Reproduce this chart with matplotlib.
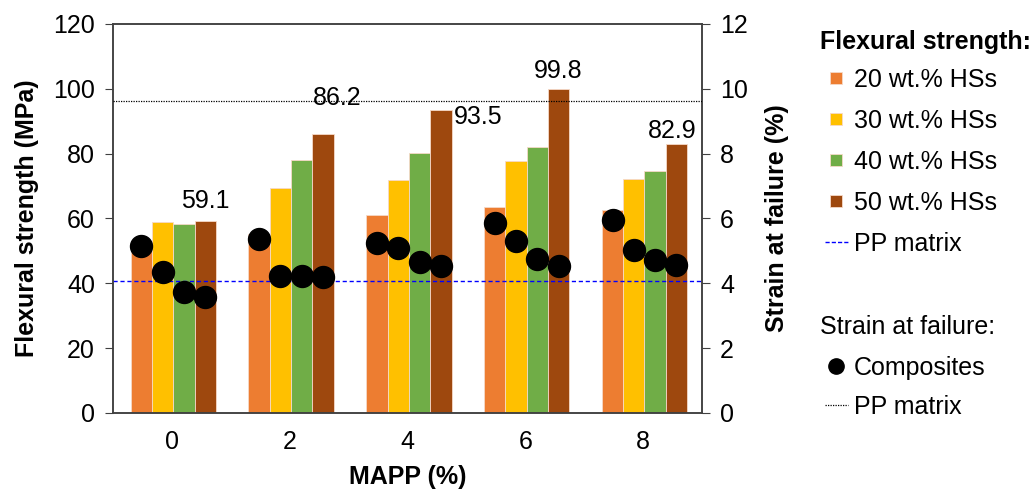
import matplotlib.pyplot as plt
from matplotlib.lines import Line2D

plt.rcParams['font.family'] = ['Liberation Sans', 'DejaVu Sans']

mapp = ["0", "2", "4", "6", "8"]
series = ["20 wt.% HSs", "30 wt.% HSs", "40 wt.% HSs", "50 wt.% HSs"]
colors = ["#ED7D31", "#FFC000", "#70AD47", "#9E480E"]

# flexural strength (MPa) per series, one value per MAPP level
strength = [
    [53.2, 55.2, 61.2, 63.6, 62.5],
    [58.9, 69.3, 71.8, 77.7, 72.2],
    [58.3, 77.9, 80.1, 82.2, 74.7],
    [59.1, 86.2, 93.5, 99.8, 82.9],
]
# strain at failure (%) per series
strain = [
    [5.16, 5.37, 5.24, 5.85, 5.94],
    [4.34, 4.24, 5.08, 5.29, 5.02],
    [3.72, 4.24, 4.65, 4.75, 4.72],
    [3.59, 4.18, 4.53, 4.52, 4.55],
]
pp_strength = 40.7
pp_strain = 9.63

# label offsets for the 50 wt.% values (points)
label_offsets = [(0, 6), (10, 17), (9, -5), (0, 5), (-3, 1)]

fig = plt.figure(figsize=(10.32, 4.92), dpi=100)
ax = fig.add_axes([0.1095, 0.1606, 0.5707, 0.7907])
ax2 = ax.twinx()

fs = 18
width = 0.181
edge = "#f6d9c8"
x = list(range(len(mapp)))
for i, (vals, c) in enumerate(zip(strength, colors)):
    pos = [xi + (i - 1.5) * width + 0.012 for xi in x]
    ax.bar(pos, vals, width, color=c, edgecolor=edge, linewidth=0.6, zorder=2)
    ax2.scatter(pos, strain[i], s=250, color="black", zorder=5)
    if i == 3:
        for p, v, off in zip(pos, vals, label_offsets):
            side = off[1] < 0
            ax.annotate(f"{v:.1f}", (p, v), xytext=off, textcoords="offset points",
                        ha="left" if side else "center", va="center" if side else "bottom",
                        fontsize=fs, zorder=6)

ax.axhline(pp_strength, color="#0000ff", linestyle=(0, (3, 2)), linewidth=1, zorder=3)
ax2.axhline(pp_strain, color="black", linestyle=(0, (1, 1)), linewidth=0.9, zorder=3)

ax.set_xlim(-0.5, 4.5)
ax.set_ylim(0, 120)
ax2.set_ylim(0, 12)
ax.set_yticks(range(0, 121, 20))
ax2.set_yticks(range(0, 13, 2))
ax.set_xticks(x)
ax.set_xticklabels(mapp)
ax.tick_params(axis="y", labelsize=fs, direction="out", length=6, color="#404040", pad=7)
ax.tick_params(axis="x", labelsize=fs, length=0, pad=12)
ax2.tick_params(axis="y", labelsize=fs, direction="out", length=6, color="#404040", pad=7)
for a in (ax, ax2):
    for s in a.spines.values():
        s.set_color("#404040")
        s.set_linewidth(1.1)

ax.set_xlabel("MAPP (%)", fontsize=fs, fontweight="bold", labelpad=8)
ax.set_ylabel("Flexural strength (MPa)", fontsize=fs, fontweight="bold", labelpad=10)
ax2.set_ylabel("Strain at failure (%)", fontsize=fs, fontweight="bold", labelpad=12)

# legends on the right, titles drawn as separate texts
fig.text(820 / 1032, 1 - 42 / 492, "Flexural strength:", fontsize=fs, fontweight="bold",
         ha="left", va="center")
fig.text(820 / 1032, 1 - 327 / 492, "Strain at failure:", fontsize=fs,
         ha="left", va="center")

h1 = [Line2D([], [], marker="s", linestyle="none", markersize=9, markerfacecolor=c,
             markeredgecolor=edge, markeredgewidth=0.6, label=s) for c, s in zip(colors, series)]
h1.append(Line2D([], [], color="#0000ff", linestyle=(0, (3, 1.5)), linewidth=1, label="PP matrix"))
fig.legend(handles=h1, loc="upper left", bbox_to_anchor=(825 / 1032, 1 - 68 / 492),
           frameon=False, fontsize=fs, handlelength=0.9, handletextpad=0.25,
           labelspacing=0.68, borderpad=0, borderaxespad=0)

h2 = [Line2D([], [], marker="o", color="black", linestyle="none", markersize=11, label="Composites"),
      Line2D([], [], color="black", linestyle=(0, (1, 1)), linewidth=0.9, label="PP matrix")]
fig.legend(handles=h2, loc="upper left", bbox_to_anchor=(825 / 1032, 1 - 356 / 492),
           frameon=False, fontsize=fs, handlelength=0.9, handletextpad=0.25,
           labelspacing=0.6, borderpad=0, borderaxespad=0)

fig.savefig("out.png", dpi=100)
